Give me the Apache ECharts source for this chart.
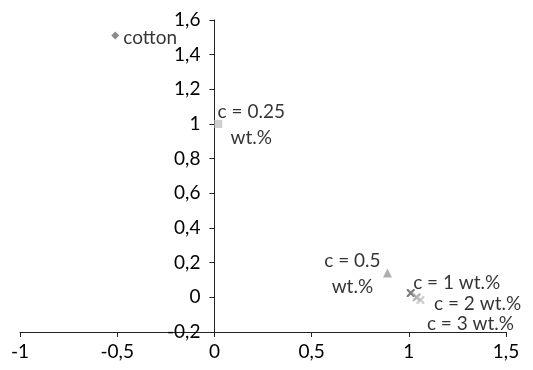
<!DOCTYPE html>
<html>
<head>
<meta charset="utf-8">
<script src="https://cdn.jsdelivr.net/npm/echarts@6/dist/echarts.min.js"></script>
<style>
  html, body { margin: 0; padding: 0; background: #fff; }
  #chart { width: 533px; height: 370px; }
</style>
</head>
<body>
<div id="chart"></div>
<script>
// samples (label text, x, y)
var names = ['cotton', 'c = 0.25\nwt.%', 'c = 0.5\nwt.%', 'c = 1 wt.%', 'c = 2 wt.%', 'c = 3 wt.%']
var xValues = [-0.51, 0.02, 0.89, 1.01, 1.04, 1.06]
var yValues = [1.51, 1.0, 0.14, 0.025, 0.0, -0.015]
var xTicks = [-1, -0.5, 0, 0.5, 1, 1.5]
var yTicks = [-0.2, 0, 0.2, 0.4, 0.6, 0.8, 1, 1.2, 1.4, 1.6]

var xCross = 'path://M0,0 L2,0 L10,8 L10,10 L8,10 L0,2 Z M8,0 L10,0 L10,2 L2,10 L0,10 L0,8 Z'
var font = 'Lato, "Open Sans", sans-serif'
var gridLeft = 20

// marker look and label placement per sample
var looks = [
  { symbol: 'diamond', size: 8, color: '#6e6e6e', offset: [35, 2] },
  { symbol: 'rect', size: 8, color: '#c4c4c4', offset: [33, 1] },
  { symbol: 'triangle', size: 9, color: '#9a9a9a', offset: [-35, 1] },
  { symbol: xCross, size: 8, color: '#5a5a5a', offset: [46, -10] },
  { symbol: xCross, size: 8, color: '#9e9e9e', offset: [61, 7] },
  { symbol: xCross, size: 8, color: '#c0c0c0', offset: [50, 24] }
]

var series = names.map(function (name, i) {
  var look = looks[i]
  return {
    type: 'scatter',
    name: name,
    symbol: look.symbol,
    symbolSize: look.size,
    itemStyle: { color: look.color },
    label: {
      show: true,
      formatter: name,
      position: 'inside',
      offset: look.offset,
      align: 'center',
      verticalAlign: 'middle',
      fontFamily: font,
      fontSize: 19,
      lineHeight: 26,
      color: '#000',
      textBorderWidth: 0
    },
    data: [[xValues[i], yValues[i]]]
  }
})

function comma(v) {
  return String(Math.round(v * 10) / 10).replace('.', ',')
}

var chart = echarts.init(document.getElementById('chart'))
chart.setOption({
  animation: false,
  grid: { left: gridLeft, right: 27, top: 20, bottom: 38, containLabel: false, outerBoundsMode: 'none' },
  xAxis: {
    type: 'value',
    min: xTicks[0],
    max: xTicks[xTicks.length - 1],
    interval: 0.5,
    axisLine: { onZero: false, lineStyle: { color: '#222' } },
    axisTick: { length: 5, lineStyle: { color: '#222' } },
    axisLabel: { margin: 10, fontFamily: font, fontSize: 19, color: '#000', formatter: comma },
    splitLine: { show: false }
  },
  yAxis: {
    type: 'value',
    min: yTicks[0],
    max: yTicks[yTicks.length - 1],
    interval: 0.2,
    axisLine: { show: true, lineStyle: { color: '#222' } },
    axisTick: { show: true, length: 5, lineStyle: { color: '#222' } },
    axisLabel: { margin: 14, fontFamily: font, fontSize: 19, color: '#000', formatter: comma },
    splitLine: { show: false }
  },
  series: series
})

// the vertical axis crosses the horizontal one at x = 0
for (var k = 0; k < 3; k++) {
  var rect = chart.getModel().getComponent('grid', 0).coordinateSystem.getRect()
  var zeroX = chart.convertToPixel({ xAxisIndex: 0 }, 0)
  chart.setOption({ yAxis: { offset: -(zeroX - rect.x) } })
}
</script>
</body>
</html>
